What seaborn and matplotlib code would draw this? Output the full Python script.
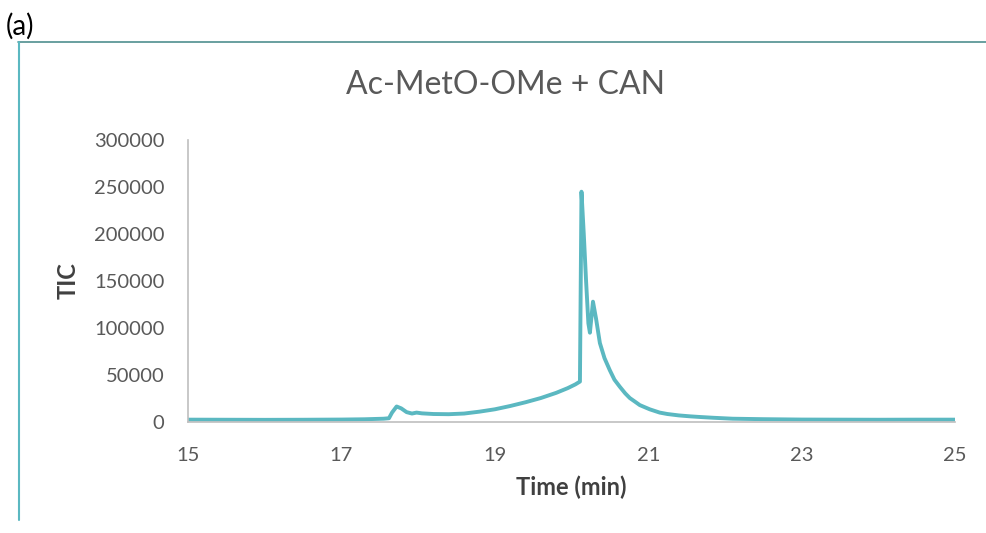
import matplotlib
matplotlib.use("Agg")
import matplotlib.pyplot as plt
import seaborn as sns
import pandas as pd

# Total ion chromatogram, retention time (min) vs TIC
time_min = [15.0, 15.5, 16.0, 16.5, 17.0, 17.3, 17.55, 17.62, 17.66, 17.72,
            17.78, 17.85, 17.92, 17.98, 18.05, 18.2, 18.4, 18.6, 18.8, 19.0,
            19.2, 19.4, 19.6, 19.8, 19.95, 20.05, 20.11, 20.13, 20.16, 20.19,
            20.22, 20.24, 20.28, 20.32, 20.37, 20.43, 20.5, 20.56, 20.63, 20.7,
            20.76, 20.83, 20.89, 21.02, 21.15, 21.25, 21.4, 21.55, 21.68, 21.85,
            22.1, 22.5, 23.0, 23.5, 24.0, 24.5, 25.0]
tic = [2500, 2400, 2300, 2400, 2600, 2900, 3500, 4000, 10000, 16500,
       14500, 10500, 9000, 10000, 9200, 8500, 8300, 9000, 11000, 13500,
       17000, 21000, 25500, 31000, 36000, 40000, 43000, 245000, 200000, 150000,
       105000, 95000, 128000, 110000, 84000, 68000, 55000, 45000, 37500, 30500,
       25500, 21500, 18000, 13500, 10000, 8500, 7000, 6000, 5300, 4500,
       3500, 3000, 2600, 2500, 2400, 2500, 2500]

x_ticks = [15, 17, 19, 21, 23, 25]
y_ticks = [0, 50000, 100000, 150000, 200000, 250000, 300000]

df = pd.DataFrame({"Time (min)": time_min, "TIC": tic})

sns.set_theme(style="white")
plt.rcParams["font.family"] = ["Lato", "DejaVu Sans"]

fig = plt.figure(figsize=(9.86, 5.33), dpi=100)
ax = fig.add_axes([188 / 986, 1 - 422 / 533, (955 - 188) / 986, (422 - 140) / 533])

sns.lineplot(data=df, x="Time (min)", y="TIC", ax=ax, color="#5bb8c1",
             linewidth=2.8, estimator=None, sort=False)

ax.set_xlim(15, 25)
ax.set_ylim(0, 300000)
ax.set_xticks(x_ticks)
ax.set_yticks(y_ticks)
ax.set_xticklabels([str(v) for v in x_ticks])
ax.set_yticklabels([str(v) for v in y_ticks])
ax.tick_params(axis="both", length=0, labelsize=14.5, colors="#595959")
ax.tick_params(axis="x", pad=18)
ax.tick_params(axis="y", pad=17)

for side in ["top", "right"]:
    ax.spines[side].set_visible(False)
for side in ["left", "bottom"]:
    ax.spines[side].set_color("#bfbfbf")
    ax.spines[side].set_linewidth(1.2)

ax.set_xlabel("Time (min)", fontsize=17, fontweight="bold", color="#404040", va="center")
ax.set_ylabel("TIC", fontsize=17, fontweight="bold", color="#404040", va="center")
ax.xaxis.set_label_coords(0.5, -65 / 282)
ax.yaxis.set_label_coords((68.5 - 188) / 767, 0.5)

fig.text(506 / 986, 1 - 85 / 533, "Ac-MetO-OMe + CAN", ha="center", va="center",
         fontsize=23, color="#595959")
fig.text(6 / 986, 1 - 26 / 533, "(a)", ha="left", va="center", fontsize=20, color="#000000")

# panel frame lines
fig.add_artist(plt.Line2D([18 / 986, 1.0], [1 - 41.5 / 533, 1 - 41.5 / 533],
                          color="#4f8f8f", linewidth=1.2, transform=fig.transFigure))
fig.add_artist(plt.Line2D([19 / 986, 19 / 986], [1 - 41.5 / 533, 1 - 520 / 533],
                          color="#5bb8c1", linewidth=1.5, transform=fig.transFigure))

fig.savefig("out.png", dpi=100)
